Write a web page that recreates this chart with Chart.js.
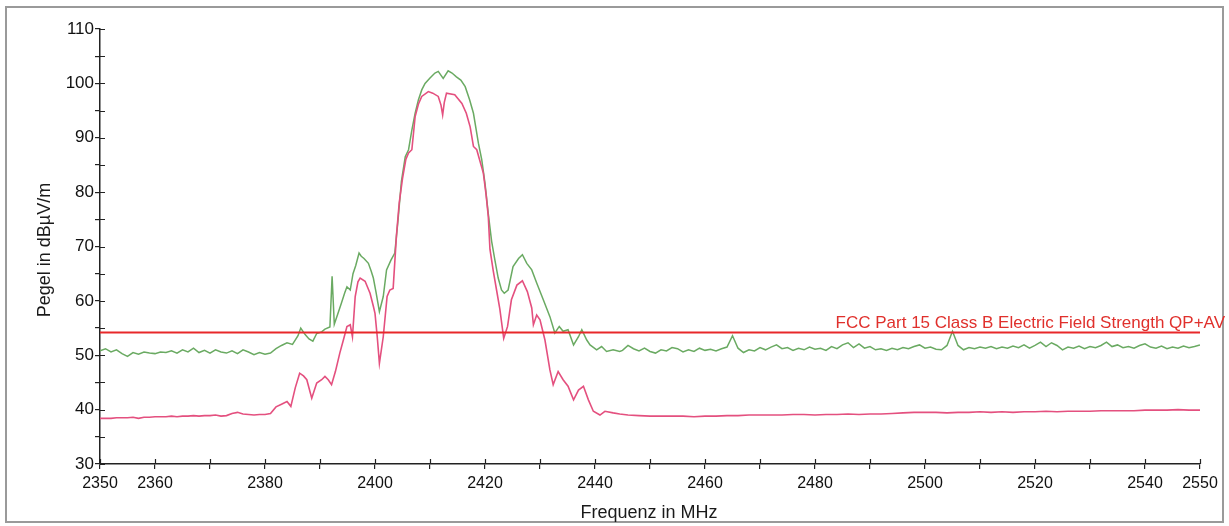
<!DOCTYPE html>
<html>
<head>
<meta charset="utf-8">
<script src="https://cdn.jsdelivr.net/npm/chart.js@4/dist/chart.umd.min.js"></script>
<style>
  html, body { margin: 0; padding: 0; background: #ffffff; }
  #wrap { width: 1229px; height: 526px; position: relative; }
</style>
</head>
<body>
<div id="wrap"><canvas id="c" width="1229" height="526"></canvas></div>
<script>
// ---- data ----
const peakFreq = [
  2350,2351,2352,2353,2354,2355,2356,2357,2358,2359,2360,2361,2362,2363,2364,2365,2366,2367,2368,2369,
  2370,2371,2372,2373,2374,2375,2376,2377,2378,2379,2380,2381,2382,2383,2384,2385,2386,2386.5,2387.3,2388,
  2388.7,2389.4,2390.3,2390.9,2391.8,2392.2,2392.6,2393.2,2393.9,2394.5,2394.9,2395.5,2396,2396.5,2397.1,2397.5,2398,2398.8,2399.3,2399.7,
  2400.2,2400.8,2401.5,2402.1,2402.9,2403.6,2404.2,2404.8,2405.5,2406.1,2406.7,2407.3,2407.9,2408.5,2409.1,2410,2410.9,2411.5,2412.4,2413.3,
  2414,2414.8,2415.6,2416.4,2417.2,2417.9,2418.8,2419.4,2420,2420.6,2421.2,2421.8,2422.4,2423,2423.5,2424.2,2425.1,2426.1,2426.8,2427.6,
  2428.5,2429.4,2430.6,2431.8,2432.7,2433.5,2434.2,2435.1,2436.1,2437,2437.6,2438.5,2439.1,2440.3,2441.2,2442.1,2443.3,2444.5,
  2445,2446,2447,2448,2449,2450,2451,2452,2453,2454,2455,2456,2457,2458,2459,2460,2461,2462,2463,2464,
  2465,2466,2467,2468,2469,2470,2471,2472,2473,2474,2475,2476,2477,2478,2479,2480,2481,2482,2483,2484,
  2485,2486,2487,2488,2489,2490,2491,2492,2493,2494,2495,2496,2497,2498,2499,2500,2501,2502,2503,2504,
  2505,2506,2507,2508,2509,2510,2511,2512,2513,2514,2515,2516,2517,2518,2519,2520,2521,2522,2523,2524,
  2525,2526,2527,2528,2529,2530,2531,2532,2533,2534,2535,2536,2537,2538,2539,2540,2541,2542,2543,2544,
  2545,2546,2547,2548,2549,2550
];
const peakLevel = [
  50.8,51.2,50.6,51.0,50.3,49.8,50.5,50.2,50.6,50.4,50.3,50.6,50.5,50.8,50.4,51.0,50.6,51.3,50.5,50.9,
  50.4,51.0,50.6,50.4,50.8,50.3,51.0,50.6,50.1,50.5,50.2,50.4,51.2,51.8,52.3,52.0,53.6,55.0,53.8,53.0,
  52.6,54.0,54.3,54.8,55.2,64.5,55.7,57.5,59.6,61.5,62.6,62.0,65.0,66.5,68.8,68.2,67.8,66.9,65.5,64.2,
  61.5,58.0,60.8,65.7,67.5,68.8,75.0,82.0,86.5,87.8,91.4,94.5,97.0,98.8,100.0,101.0,101.9,102.2,100.9,102.3,
  101.9,101.2,100.6,99.4,97.0,94.5,89.0,86.0,81.6,76.0,71.0,67.5,64.2,62.0,61.4,62.0,66.3,67.8,68.5,66.9,
  65.7,63.3,60.2,57.1,54.1,55.3,54.4,54.7,51.9,53.4,54.7,52.8,51.9,51.0,51.6,50.7,51.0,50.7,
  50.9,51.8,51.2,50.8,51.3,50.7,50.4,51.0,50.8,51.4,51.2,50.6,51.0,50.7,51.3,50.9,51.1,50.8,51.2,51.5,
  53.6,51.3,50.5,51.0,50.8,51.4,51.0,51.5,51.9,51.2,51.4,50.9,51.3,51.0,51.5,51.1,51.3,50.9,51.6,51.2,
  51.9,52.3,51.4,52.1,51.3,51.6,51.0,51.2,50.9,51.3,51.0,51.4,51.2,51.6,51.9,51.3,51.5,51.1,51.0,51.8,
  54.4,51.8,51.0,51.4,51.2,51.5,51.3,51.6,51.2,51.5,51.3,51.7,51.4,51.9,51.3,51.8,52.4,51.6,52.3,51.8,
  51.0,51.5,51.3,51.7,51.2,51.6,51.4,51.8,52.4,51.6,51.9,51.4,51.6,51.3,51.8,52.1,51.5,51.3,51.7,51.2,
  51.5,51.3,51.7,51.4,51.6,51.9
];
const avgFreq = [
  2350,2351,2352,2353,2354,2355,2356,2357,2358,2359,2360,2361,2362,2363,2364,2365,2366,2367,2368,2369,
  2370,2371,2372,2373,2374,2375,2376,2377,2378,2379,2380,2381,2382,2383,2384,2384.7,2385.5,2386.3,2387,2387.6,
  2388.5,2389.4,2390.3,2390.9,2391.5,2392.1,2392.8,2393.6,2394.3,2394.9,2395.5,2395.9,2396.4,2396.9,2397.3,2398.2,2399.1,2399.7,2400,2400.4,
  2400.8,2401.5,2402.2,2402.7,2403.3,2403.9,2404.4,2405,2405.6,2406.1,2406.7,2407.3,2407.9,2408.5,2409.7,2410.5,2411.5,2412,2412.3,2412.6,
  2413,2414.5,2415.8,2416.6,2417.3,2417.9,2418.5,2419.7,2420.2,2420.6,2420.9,2421.5,2422.1,2422.7,2423.4,2424.1,2424.8,2425.8,2426.8,2427.7,
  2428.5,2428.8,2429.4,2430,2430.9,2431.8,2432.4,2433.3,2434.2,2435.1,2436.1,2437,2437.9,2438.8,2439.7,2440.9,2441.8,2443.3,2444.5,2446,
  2448,2450,2452,2454,2456,2458,2460,2462,2464,2466,2468,2470,2472,2474,2476,2478,2480,2482,2484,2486,
  2488,2490,2492,2494,2496,2498,2500,2502,2504,2506,2508,2510,2512,2514,2516,2518,2520,2522,2524,2526,
  2528,2530,2532,2534,2536,2538,2540,2542,2544,2546,2548,2550
];
const avgLevel = [
  38.4,38.4,38.4,38.5,38.5,38.5,38.6,38.4,38.6,38.6,38.7,38.7,38.7,38.8,38.7,38.8,38.8,38.9,38.8,38.9,
  38.9,39.0,38.8,38.9,39.3,39.5,39.2,39.1,39.0,39.1,39.1,39.3,40.5,41.0,41.5,40.6,44.0,46.7,46.2,45.5,
  42.1,44.9,45.5,46.1,45.5,44.6,47.0,50.4,53.0,55.3,55.6,53.4,60.8,63.5,64.2,63.6,61.4,59.0,57.7,53.5,
  48.5,53.4,60.8,62.0,62.3,72.0,78.0,82.5,86.0,87.2,87.8,93.9,96.2,97.6,98.5,98.2,97.6,96.0,94.2,96.5,
  98.2,97.9,96.3,94.5,92.0,88.4,87.8,83.5,79.5,75.5,69.5,65.5,62.0,58.5,53.1,55.3,60.2,62.9,63.7,61.7,
  58.7,55.6,57.4,56.5,52.8,47.3,44.6,47.0,45.5,44.3,41.8,43.6,44.3,41.8,39.7,39.0,39.7,39.4,39.2,39.0,
  38.9,38.8,38.8,38.8,38.8,38.7,38.8,38.8,38.9,38.9,39.0,39.0,39.0,39.0,39.1,39.1,39.0,39.1,39.1,39.2,
  39.1,39.2,39.2,39.3,39.4,39.5,39.5,39.5,39.4,39.5,39.5,39.6,39.5,39.6,39.5,39.6,39.6,39.7,39.6,39.7,
  39.7,39.7,39.8,39.8,39.8,39.8,39.9,39.9,39.9,40.0,39.9,39.9
];
const limitFreq = [2350, 2550];
const limitLevel = [54.2, 54.2];
const limitName = 'FCC Part 15 Class B Electric Field Strength QP+AV';
const xTickLabels = [2350, 2360, 2380, 2400, 2420, 2440, 2460, 2480, 2500, 2520, 2540, 2550];
const yTickLabels = [30, 40, 50, 60, 70, 80, 90, 100, 110];
const xTitle = 'Frequenz in MHz';
const yTitle = 'Pegel in dBµV/m';

const toPts = (xs, ys) => xs.map((x, i) => ({ x: x, y: ys[i] }));
const FONT = "'Liberation Sans', Arial, Helvetica, sans-serif";

const decor = {
  id: 'decor',
  beforeDraw(chart) {
    const ctx = chart.ctx;
    ctx.save();
    ctx.fillStyle = '#ffffff';
    ctx.fillRect(0, 0, chart.width, chart.height);
    ctx.strokeStyle = '#9a9a9a';
    ctx.lineWidth = 2;
    ctx.strokeRect(6, 7, 1217, 515);
    ctx.restore();
  },
  afterDraw(chart) {
    const ctx = chart.ctx;
    const xs = chart.scales.x, ys = chart.scales.y;
    const area = chart.chartArea;
    ctx.save();
    // inner halves of the tick marks
    ctx.strokeStyle = '#222';
    ctx.lineWidth = 1.2;
    ctx.beginPath();
    xs.ticks.forEach(t => {
      const px = Math.round(xs.getPixelForValue(t.value)) + 0.5;
      ctx.moveTo(px, area.bottom);
      ctx.lineTo(px, area.bottom - 5);
    });
    ys.ticks.forEach(t => {
      const py = Math.round(ys.getPixelForValue(t.value)) + 0.5;
      ctx.moveTo(area.left, py);
      ctx.lineTo(area.left + 5, py);
    });
    ctx.stroke();
    // limit label
    ctx.fillStyle = '#e0302c';
    ctx.font = '17px ' + FONT;
    ctx.textAlign = 'right';
    ctx.textBaseline = 'alphabetic';
    ctx.fillText(limitName, 1225, ys.getPixelForValue(limitLevel[1]) - 4);
    // axis titles
    ctx.fillStyle = '#1a1a1a';
    ctx.font = '18px ' + FONT;
    ctx.textAlign = 'center';
    ctx.textBaseline = 'middle';
    ctx.fillText(xTitle, 649, 513);
    ctx.translate(45, 250);
    ctx.rotate(-Math.PI / 2);
    ctx.fillText(yTitle, 0, 0);
    ctx.restore();
  }
};

new Chart(document.getElementById('c'), {
  type: 'line',
  data: {
    datasets: [
      { label: limitName, data: toPts(limitFreq, limitLevel), borderColor: '#e8282a', borderWidth: 2 },
      { label: 'AV', data: toPts(avgFreq, avgLevel), borderColor: '#e4507f', borderWidth: 1.6 },
      { label: 'Peak', data: toPts(peakFreq, peakLevel), borderColor: '#6aaa62', borderWidth: 1.5 }
    ]
  },
  options: {
    responsive: false,
    animation: false,
    devicePixelRatio: 1,
    layout: { padding: { left: 0, top: 29, right: 29, bottom: 0 } },
    elements: { point: { radius: 0 }, line: { tension: 0, fill: false } },
    plugins: { legend: { display: false }, tooltip: { enabled: false }, title: { display: false } },
    scales: {
      x: {
        type: 'linear', min: 2350, max: 2550,
        afterFit(s) { s.height = 62; },
        grid: { display: true, drawOnChartArea: false, drawTicks: true, tickLength: 5, color: '#222', lineWidth: 1.2 },
        border: { display: true, color: '#222', width: 1.5 },
        ticks: {
          stepSize: 10, autoSkip: false, maxRotation: 0, minRotation: 0, padding: 5,
          color: '#111', font: { family: FONT, size: 16 },
          callback: v => xTickLabels.includes(v) ? String(v) : ''
        }
      },
      y: {
        type: 'linear', min: 30, max: 110,
        afterFit(s) { s.width = 100; },
        grid: { display: true, drawOnChartArea: false, drawTicks: true, tickLength: 5, color: '#222', lineWidth: 1.2 },
        border: { display: true, color: '#222', width: 1.5 },
        ticks: {
          stepSize: 5, autoSkip: false, padding: 1,
          color: '#111', font: { family: FONT, size: 17 },
          callback: v => yTickLabels.includes(v) ? String(v) : ''
        }
      }
    }
  },
  plugins: [decor]
});
</script>
</body>
</html>
